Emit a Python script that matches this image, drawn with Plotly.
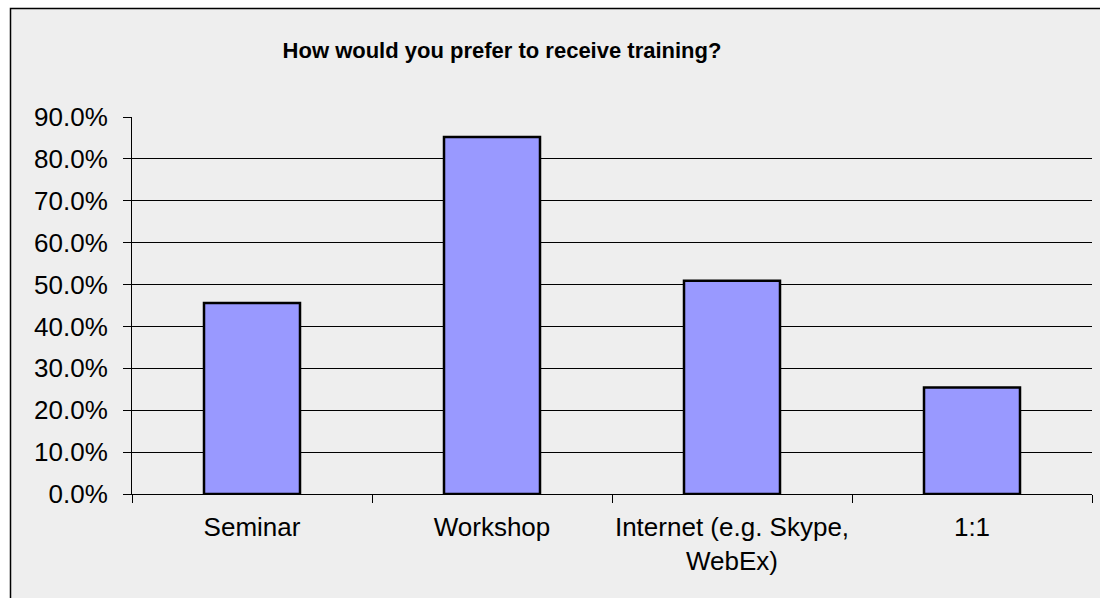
import plotly.graph_objects as go

# 응답 데이터
categories = ["Seminar", "Workshop", "Internet (e.g. Skype,<br>WebEx)", "1:1"]
shares = [0.456, 0.852, 0.509, 0.254]
y_ticks = [0.0, 0.1, 0.2, 0.3, 0.4, 0.5, 0.6, 0.7, 0.8, 0.9]

# 플롯 영역 (px)
W, H = 1100, 598
L, R, T, B = 132, 8, 117, 104
pw, ph = W - L - R, H - T - B


def px_x(x):
    return (x - L) / pw


def px_y(y):
    return (H - B - y) / ph


fig = go.Figure()
fig.add_trace(go.Bar(
    x=categories, y=shares,
    marker=dict(color="#9999FF", line=dict(color="black", width=2.5)),
))

# 차트 영역 배경 + 테두리
fig.add_shape(type="rect", xref="paper", yref="paper", layer="below",
              x0=px_x(10.5), x1=px_x(1130), y0=px_y(640), y1=px_y(8.5),
              fillcolor="#EEEEEE", line=dict(color="black", width=1.5))

fig.update_layout(
    width=W, height=H,
    margin=dict(l=L, r=R, t=T, b=B, autoexpand=False),
    paper_bgcolor="white",
    plot_bgcolor="rgba(0,0,0,0)",
    font=dict(family="Liberation Sans, Arial, sans-serif", size=26, color="black"),
    title=dict(text="<b>How would you prefer to receive training?</b>",
               x=502 / W, xanchor="center", xref="container",
               y=1 - 50 / H, yanchor="middle", yref="container",
               font=dict(size=22, color="black")),
    bargap=0.6,
    showlegend=False,
)
fig.update_xaxes(
    type="category", tickson="boundaries", ticks="outside", ticklen=8,
    tickcolor="black", showline=True, linecolor="black", linewidth=1,
    showgrid=False, ticklabelstandoff=10, tickangle=0, automargin=False,
)
fig.update_yaxes(
    range=[0, 0.9], tickvals=y_ticks, tickformat=".1%",
    ticks="outside", ticklen=8, tickcolor="black",
    showline=True, linecolor="black", linewidth=1,
    showgrid=True, gridcolor="black", gridwidth=1,
    zeroline=False, ticklabelstandoff=10, automargin=False,
)

# body 기본 여백/스크롤바 제거
fig.write_html("out.html", config={"displayModeBar": False},
               post_script="document.body.style.margin='0';document.body.style.overflow='hidden';")
